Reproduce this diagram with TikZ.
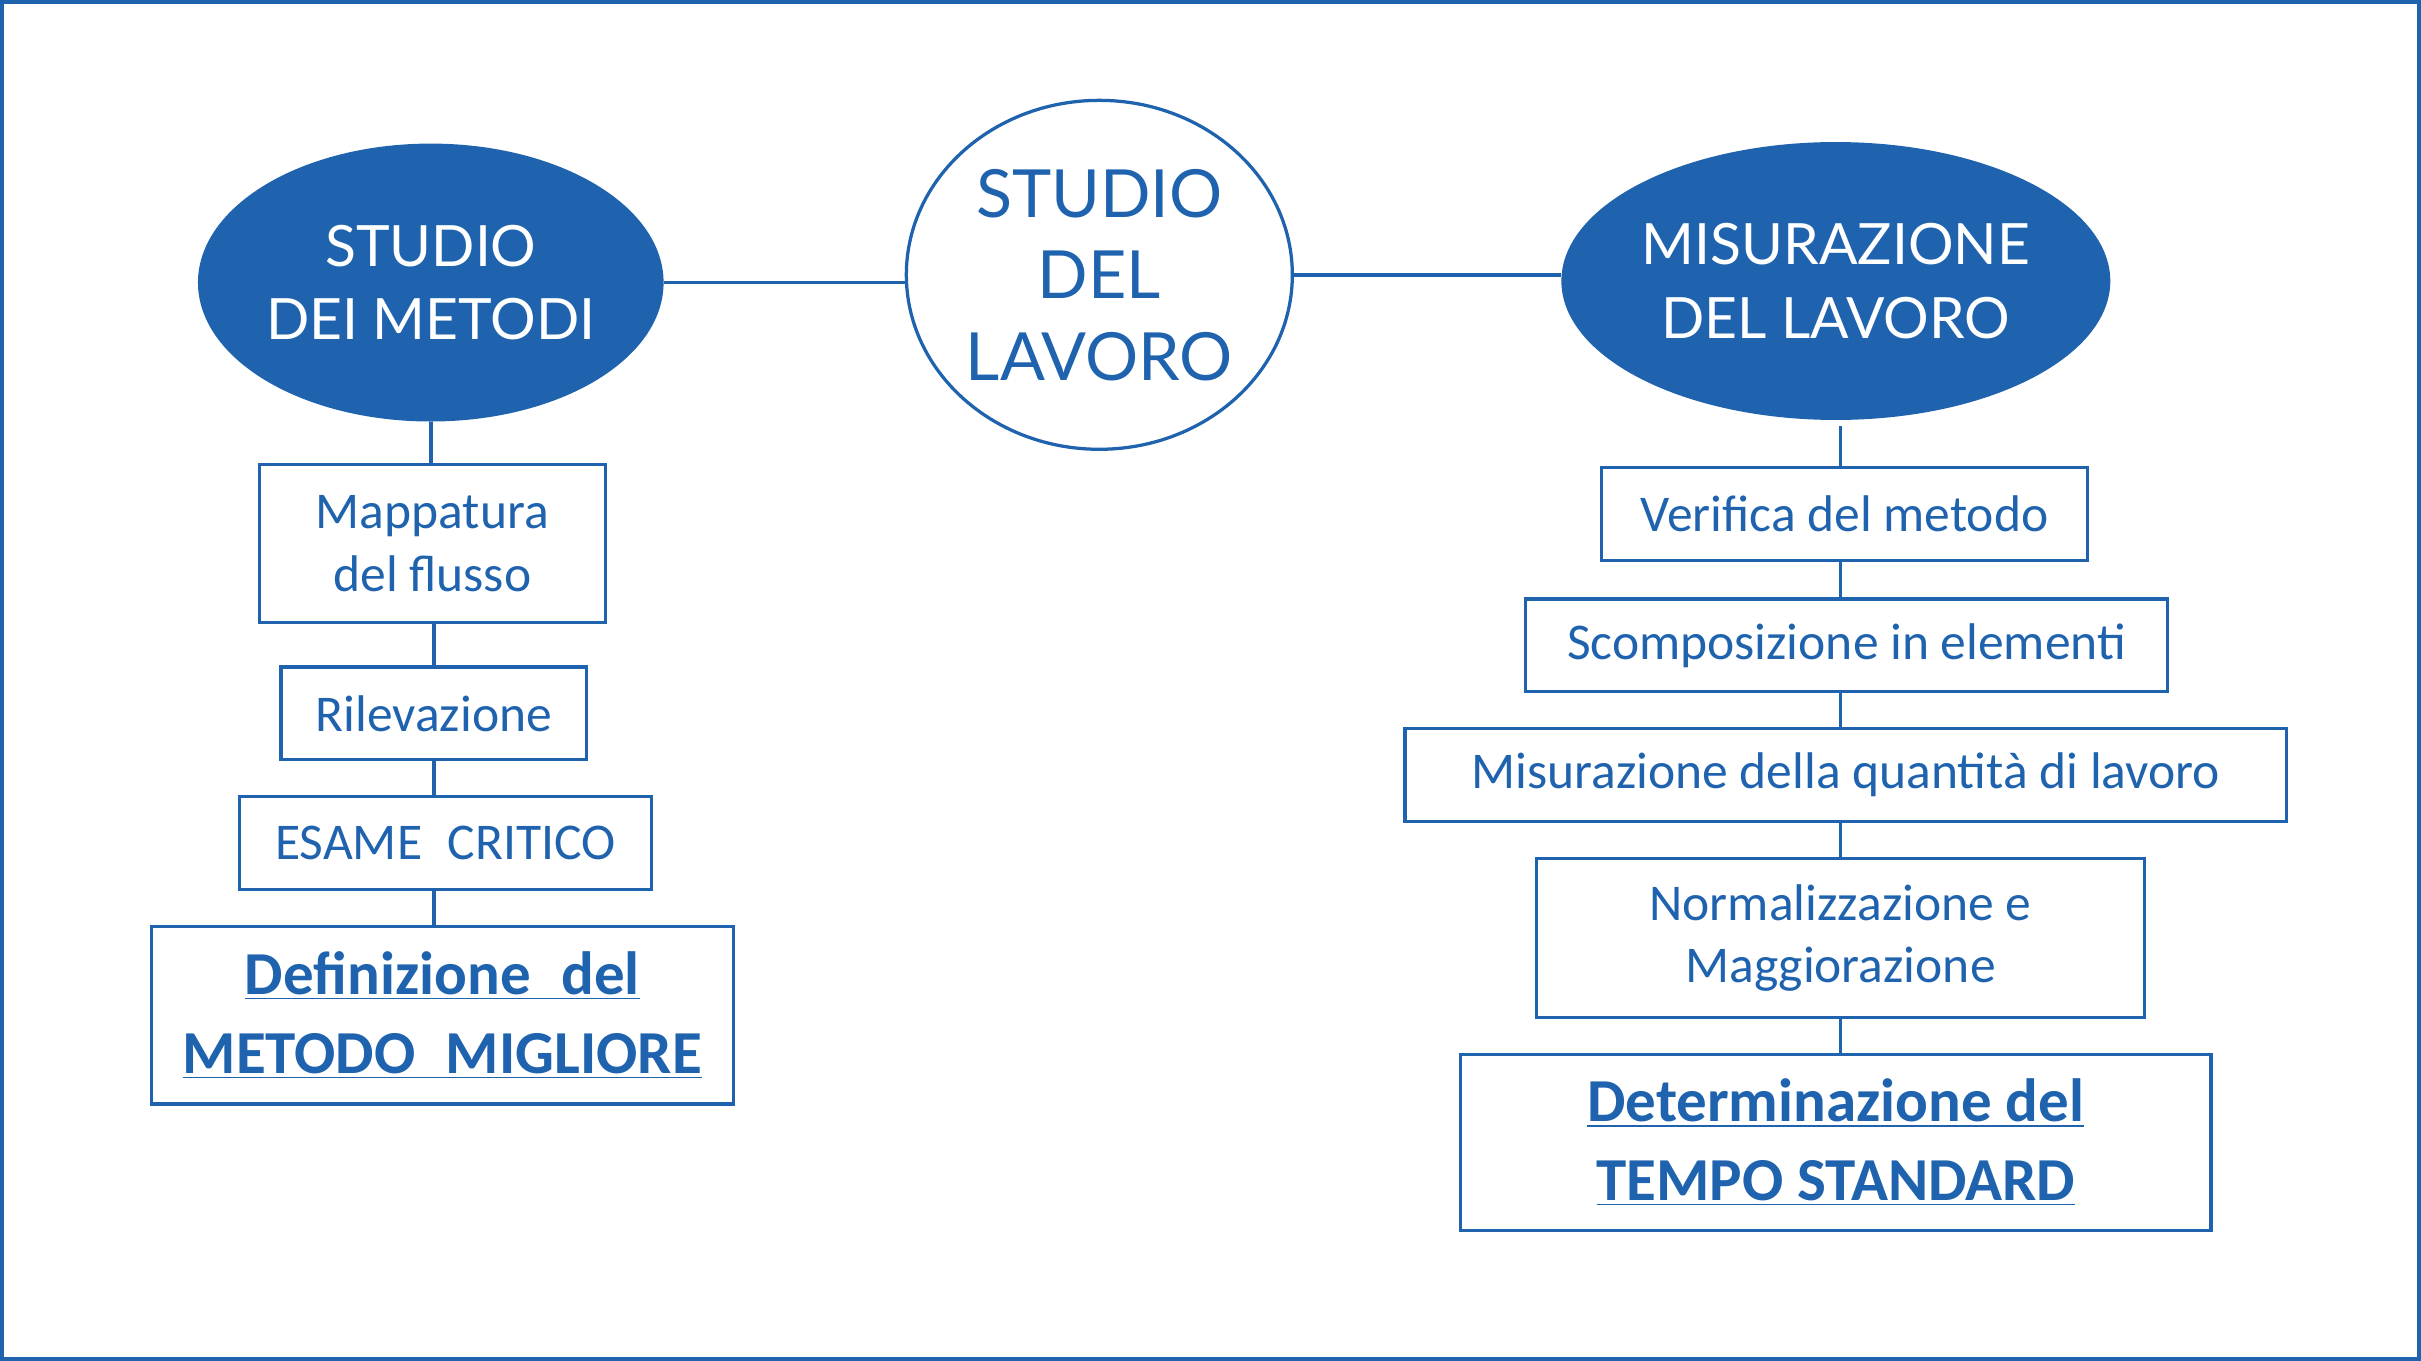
\documentclass[tikz,border=0pt]{standalone}
\usepackage{fontspec}
\setmainfont{Carlito}
\newfontfamily\ellfont{Lato}
\usetikzlibrary{shapes.geometric}
\definecolor{blu}{HTML}{1F63AE}
\begin{document}
\begin{tikzpicture}[x=0.02cm,y=-0.02cm,
  ln/.style={draw=blu,line width=1.3pt},
  sz/.style 2 args={minimum width=#1*0.02cm,minimum height=#2*0.02cm},
  bx/.style={draw=blu,line width=1.2pt,text=blu,align=center,inner sep=0pt,font=\fontsize{19}{23}\selectfont},
  bb/.style={font=\bfseries\fontsize{22.5}{29}\selectfont},
  ell/.style={ellipse,fill=blu,text=white,align=center,inner sep=0pt,font=\ellfont\fontsize{21}{27}\selectfont}]
\useasboundingbox (0,0) rectangle (1568,881);
\draw[draw=blu,line width=1.5pt] (1,1) rectangle (1567,880);
\node[ell,sz={268}{180}] (sm) at (279,183) {STUDIO\\DEI METODI};
\node[ellipse,draw=blu,line width=1.2pt,fill=white,text=blu,align=center,inner sep=0pt,sz={250}{226},font=\ellfont\fontsize{24.5}{30}\selectfont] (sl) at (712,178) {STUDIO\\DEL\\LAVORO};
\node[ell,sz={342}{180}] (ml) at (1189,182) {MISURAZIONE\\DEL LAVORO};
\draw[ln] (sm.east) -- (sl.west|-sm.east);
\draw[ln] (sl.east) -- (ml.west|-sl.east);
% left
\node[bx,sz={224}{102}] (a1) at (280,352) {Mappatura\\del flusso};
\node[bx,sz={198}{60}] (a2) at (281,462) {Rilevazione};
\node[bx,sz={267}{60}] (a3) at (288.5,546) {ESAME\enspace CRITICO};
\node[bx,bb,sz={377}{115}] (a4) at (286.5,657.5) {\underline{Definizione\enspace del}\\\underline{METODO\enspace MIGLIORE}};
\draw[ln] (sm.south) -- (sm.south|-a1.north);
\draw[ln] (281,403) -- (281,432);
\draw[ln] (281,492) -- (281,516);
\draw[ln] (281,576) -- (281,600);
% right
\node[bx,sz={315}{60}] (b1) at (1194.5,333) {Verifica del metodo};
\node[bx,sz={416}{60}] (b2) at (1196,418) {Scomposizione in elementi};
\node[bx,sz={571}{60}] (b3) at (1195.5,502) {Misurazione della quantità di lavoro};
\node[bx,sz={394}{103}] (b4) at (1192,607.5) {Normalizzazione e\\Maggiorazione};
\node[bx,bb,sz={486}{114}] (b5) at (1189,740) {\underline{Determinazione del}\\\underline{TEMPO STANDARD}};
\draw[ln] (1192,276) -- (1192,303);
\draw[ln] (1192,363) -- (1192,388);
\draw[ln] (1192,448) -- (1192,472);
\draw[ln] (1192,532) -- (1192,556);
\draw[ln] (1192,659) -- (1192,683);
\end{tikzpicture}
\end{document}
